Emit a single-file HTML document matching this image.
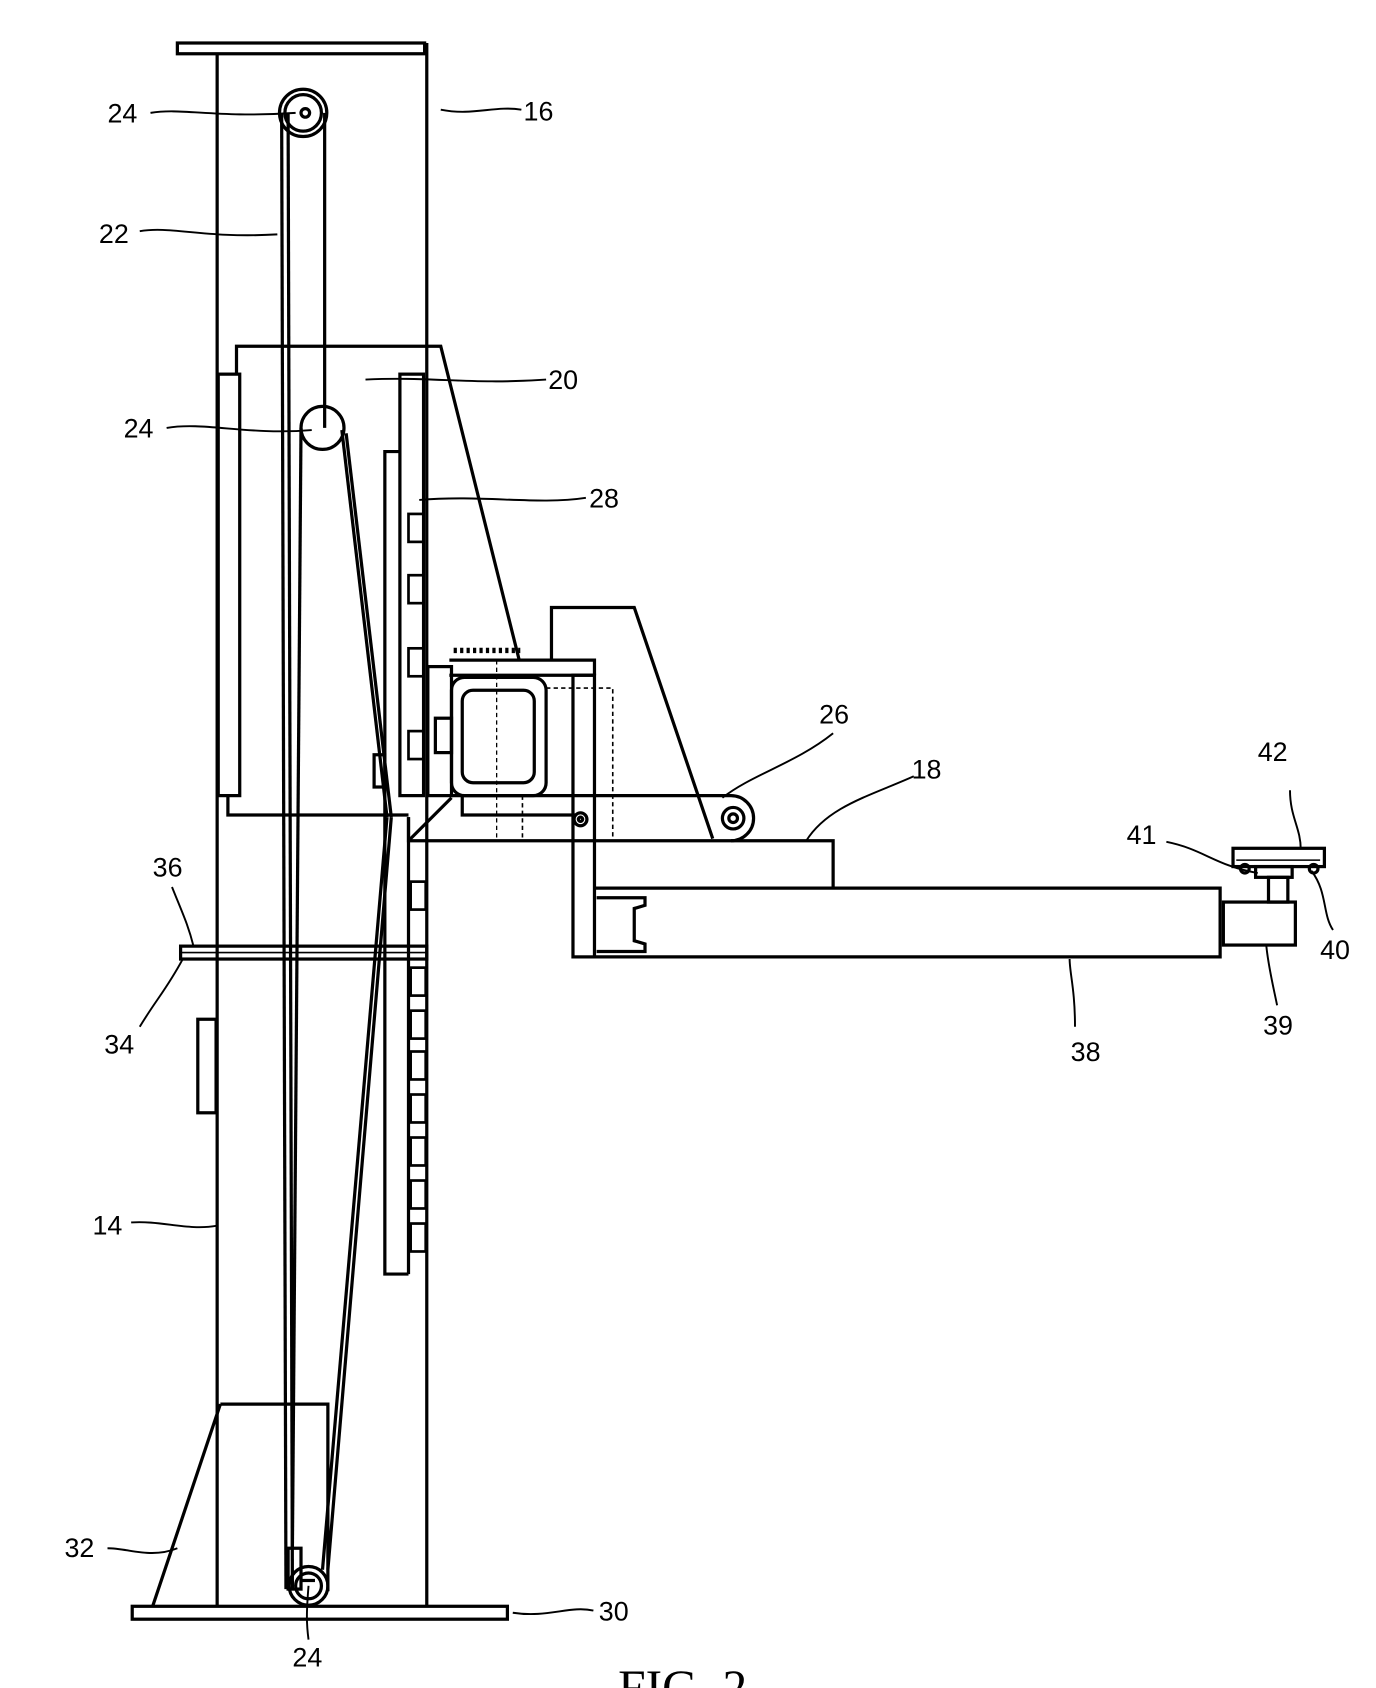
<!DOCTYPE html>
<html><head><meta charset="utf-8"><style>
html,body{margin:0;padding:0;background:#fff;}
svg{display:block;}
text{font-family:"Liberation Sans",sans-serif;font-size:25px;fill:#000;}
</style></head><body>
<svg width="1376" height="1688" viewBox="0 0 1280 1570" preserveAspectRatio="none" xmlns="http://www.w3.org/2000/svg">
<g fill="none" stroke="#000" stroke-width="3">
<rect x="165" y="40" width="230" height="10"/>
<line x1="202" y1="50" x2="202" y2="1494"/>
<line x1="397" y1="40" x2="397" y2="1494"/>
<rect x="123" y="1494" width="349" height="12"/>
<line x1="205" y1="1306" x2="142" y2="1494"/>
<polyline points="205,1306 305,1306 305,1480"/>
<circle cx="282" cy="105" r="22"/><circle cx="282" cy="105" r="17"/><circle cx="284" cy="105" r="4"/>
<circle cx="300" cy="398" r="20"/>
<circle cx="287" cy="1475" r="18"/><circle cx="287" cy="1475" r="12"/>
<rect x="268" y="1440" width="12" height="38"/>
<line x1="281" y1="1470" x2="293" y2="1470"/>
<line x1="262" y1="105" x2="266" y2="1478"/>
<line x1="268" y1="105" x2="272" y2="1478"/>
<line x1="302" y1="105" x2="302" y2="398"/>
<line x1="318" y1="400" x2="360" y2="760"/>
<line x1="322" y1="403" x2="364" y2="760"/>
<line x1="364" y1="760" x2="305" y2="1460"/>
<line x1="360" y1="760" x2="300" y2="1460"/>
<line x1="280" y1="398" x2="272" y2="1440"/>
<polyline points="220,348 220,322 410,322 483,614"/>
<rect x="203" y="348" width="20" height="392"/>
<polyline points="212,740 212,758 380,758"/>
<rect x="348" y="702" width="10" height="30"/>
<rect x="372" y="348" width="22" height="392"/>
<polyline points="372,420 358,420 358,1185 380,1185"/>
<g stroke-width="2.5">
<rect x="380" y="478" width="14" height="26"/>
<rect x="380" y="535" width="14" height="26"/>
<rect x="380" y="603" width="14" height="26"/>
<rect x="380" y="680" width="14" height="26"/>
<rect x="382" y="820" width="14" height="26"/>
<rect x="382" y="900" width="14" height="26"/>
<rect x="382" y="940" width="14" height="26"/>
<rect x="382" y="978" width="14" height="26"/>
<rect x="382" y="1018" width="14" height="26"/>
<rect x="382" y="1058" width="14" height="26"/>
<rect x="382" y="1098" width="14" height="26"/>
<rect x="382" y="1138" width="14" height="26"/>
</g>
<line x1="380" y1="760" x2="380" y2="1185"/>
<rect x="168" y="880" width="229" height="12"/>
<line x1="168" y1="886" x2="397" y2="886" stroke-width="1.5"/>
<rect x="184" y="948" width="17" height="87"/>
<rect x="398" y="620" width="22" height="120"/>
<rect x="405" y="668" width="15" height="32"/>
<polyline points="513,614 513,565 590,565 663,780"/>
<polyline points="418,614 553,614 553,628"/>
<line x1="418" y1="628" x2="553" y2="628"/>
<rect x="420" y="630" width="88" height="110" rx="12"/>
<rect x="430" y="642" width="67" height="86" rx="10"/>
<line x1="422" y1="605" x2="484" y2="605" stroke-width="5" stroke-dasharray="3,3"/>
<polyline points="508,640 570,640 570,780" stroke-width="1.5" stroke-dasharray="4,3"/>
<line x1="486" y1="740" x2="486" y2="780" stroke-width="1.5" stroke-dasharray="4,3"/>
<line x1="462" y1="614" x2="462" y2="780" stroke-width="1.2" stroke-dasharray="4,3"/>
<line x1="420" y1="740" x2="680" y2="740"/>
<polyline points="430,740 430,758 535,758"/>
<path d="M680,740 A21,21 0 0 1 680,782"/>
<circle cx="682" cy="761" r="10"/><circle cx="682" cy="761" r="4"/>
<circle cx="540" cy="762" r="6"/><circle cx="540" cy="762" r="2"/>
<polyline points="380,760 380,782 775,782 775,826"/>
<line x1="380" y1="782" x2="420" y2="742"/>
<rect x="533" y="628" width="20" height="262"/>
<polyline points="553,826 1135,826 1135,890 553,890"/>
<path d="M555,835 L600,835 L600,842 L590,845 L590,875 L600,878 L600,885 L555,885"/>
<rect x="1138" y="839" width="67" height="40"/>
<rect x="1180" y="816" width="18" height="23"/>
<rect x="1147" y="789" width="85" height="17"/>
<line x1="1150" y1="800" x2="1228" y2="800" stroke-width="1.5"/>
<rect x="1168" y="806" width="34" height="10"/>
<circle cx="1158" cy="808" r="4"/><circle cx="1222" cy="808" r="4"/>
<g stroke-width="1.8">
<path d="M140,105 C170,100 200,110 275,105"/>
<path d="M410,102 C440,108 460,98 485,102"/>
<path d="M130,215 C160,210 190,222 258,218"/>
<path d="M340,353 C400,350 440,358 508,353"/>
<path d="M155,398 C190,392 230,405 290,400"/>
<path d="M390,465 C450,460 500,470 545,463"/>
<path d="M672,742 C700,720 740,710 775,682"/>
<path d="M750,782 C770,750 810,740 850,722"/>
<path d="M1085,783 C1120,790 1130,805 1170,812"/>
<path d="M1220,810 C1235,830 1230,850 1240,865"/>
<path d="M1200,735 C1200,760 1210,770 1210,790"/>
<path d="M1178,880 C1180,900 1185,920 1188,935"/>
<path d="M1000,955 C1000,920 995,905 995,892"/>
<path d="M160,825 C170,850 175,860 180,880"/>
<path d="M130,955 C145,930 155,920 170,892"/>
<path d="M122,1137 C150,1135 175,1145 202,1140"/>
<path d="M100,1440 C120,1440 140,1450 165,1440"/>
<path d="M477,1500 C510,1505 530,1493 552,1498"/>
<path d="M287,1475 C285,1500 285,1510 287,1525"/>
</g>
</g>
<g>
<text x="100" y="114">24</text>
<text x="487" y="112">16</text>
<text x="92" y="226">22</text>
<text x="510" y="362">20</text>
<text x="115" y="407">24</text>
<text x="548" y="472">28</text>
<text x="762" y="673">26</text>
<text x="848" y="724">18</text>
<text x="1170" y="708">42</text>
<text x="1048" y="785">41</text>
<text x="1228" y="892">40</text>
<text x="1175" y="962">39</text>
<text x="996" y="987">38</text>
<text x="142" y="815">36</text>
<text x="97" y="980">34</text>
<text x="86" y="1148">14</text>
<text x="60" y="1448">32</text>
<text x="557" y="1507">30</text>
<text x="272" y="1550">24</text>
<text x="575" y="1585" style="font-family:'Liberation Serif',serif;font-size:46px;">FIG. 2</text>
</g>
</svg>
</body></html>
